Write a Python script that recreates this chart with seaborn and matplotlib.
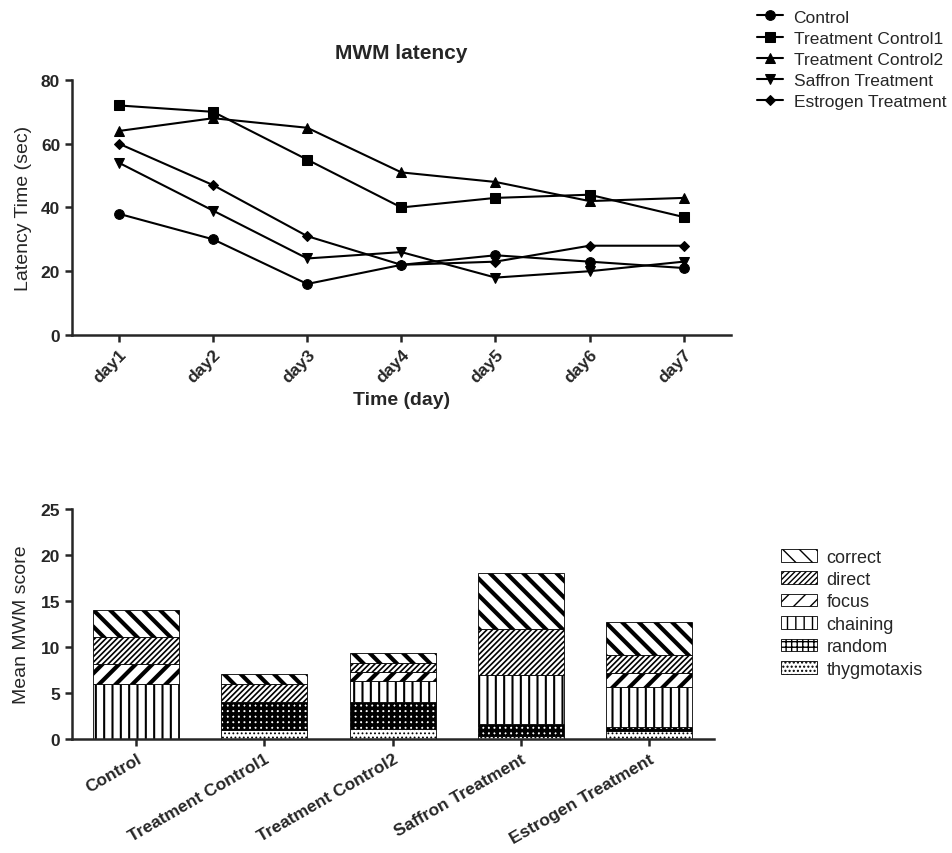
import matplotlib
matplotlib.use("Agg")
import matplotlib.pyplot as plt
import pandas as pd
import seaborn as sns

# Line chart data (MWM latency, sec)
days = ["day1", "day2", "day3", "day4", "day5", "day6", "day7"]
control = [38, 30, 16, 22, 25, 23, 21]
treatment_control1 = [72, 70, 55, 40, 43, 44, 37]
treatment_control2 = [64, 68, 65, 51, 48, 42, 43]
saffron = [54, 39, 24, 26, 18, 20, 23]
estrogen = [60, 47, 31, 22, 23, 28, 28]
line_groups = ["Control", "Treatment Control1", "Treatment Control2", "Saffron Treatment", "Estrogen Treatment"]

# Stacked bar data (mean MWM score per strategy)
bar_groups = ["Control", "Treatment Control1", "Treatment Control2", "Saffron Treatment", "Estrogen Treatment"]
thygmotaxis = [0, 1.0, 1.1, 0.35, 0.85]
random_s = [0, 3.0, 2.9, 1.25, 0.45]
chaining = [6.0, 0, 2.3, 5.4, 4.3]
focus = [2.1, 0, 1.0, 0, 1.6]
direct = [3.0, 2.0, 1.0, 5.0, 1.9]
correct = [2.95, 1.05, 1.1, 6.0, 3.6]

sns.set_style("ticks")
plt.rcParams["font.family"] = ["Liberation Sans", "DejaVu Sans"]

fig = plt.figure(figsize=(9.52, 8.54), dpi=100)

# ---- line chart
ax1 = fig.add_axes([0.0756, 0.6066, 0.692, 0.2986])
df = pd.DataFrame({"day": days * 5,
                   "latency": control + treatment_control1 + treatment_control2 + saffron + estrogen,
                   "group": [g for g in line_groups for _ in days]})
markers = {"Control": "o", "Treatment Control1": "s", "Treatment Control2": "^",
           "Saffron Treatment": "v", "Estrogen Treatment": "D"}
sizes = {"Control": 7, "Treatment Control1": 7, "Treatment Control2": 7,
         "Saffron Treatment": 7, "Estrogen Treatment": 5.5}
for g in line_groups:
    sub = df[df["group"] == g]
    sns.lineplot(data=sub, x="day", y="latency", ax=ax1, color="black", linewidth=1.5,
                 marker=markers[g], markersize=sizes[g], markeredgecolor="black",
                 label=g, sort=False)
ax1.set_xlim(-0.5, 6.5)
ax1.set_ylim(0, 80)
ax1.set_yticks([0, 20, 40, 60, 80])
ax1.set_title("MWM latency", fontsize=15, fontweight="bold", pad=16)
ax1.set_xlabel("Time (day)", fontsize=14, fontweight="bold", labelpad=4)
ax1.set_ylabel("Latency Time (sec)", fontsize=14, labelpad=6)
ax1.tick_params(width=1.8, length=5, labelsize=12.5)
for lab in ax1.get_xticklabels() + ax1.get_yticklabels():
    lab.set_fontweight("bold")
for lab in ax1.get_xticklabels():
    lab.set_rotation(45)
    lab.set_ha("right")
    lab.set_rotation_mode("anchor")
sns.despine(ax=ax1)
for s in ["left", "bottom"]:
    ax1.spines[s].set_linewidth(1.8)
h, l = ax1.get_legend_handles_labels()
ax1.get_legend().remove()
fig.legend(h, l, loc="upper left", bbox_to_anchor=(0.788, 0.996), frameon=False,
           fontsize=12.5, handlelength=1.5, handletextpad=0.6, labelspacing=0.35,
           borderaxespad=0)

# ---- stacked bar chart
ax2 = fig.add_axes([0.0756, 0.1335, 0.674, 0.2693])
layers = [("thygmotaxis", thygmotaxis, "....", 0.8),
          ("random", random_s, "+++", 2.6),
          ("chaining", chaining, "||", 1.5),
          ("focus", focus, "//", 3.0),
          ("direct", direct, "//////", 1.2),
          ("correct", correct, "\\\\", 3.0)]
bottom = [0.0] * len(bar_groups)
for name, vals, hatch, hlw in layers:
    with plt.rc_context({"hatch.linewidth": hlw, "hatch.color": "black"}):
        sns.barplot(x=bar_groups, y=vals, bottom=bottom, ax=ax2, color="white",
                    edgecolor="black", linewidth=0.6, hatch=hatch, width=0.67,
                    label=name)
    bottom = [b + v for b, v in zip(bottom, vals)]
ax2.set_xlim(-0.5, 4.5)
ax2.set_ylim(0, 25)
ax2.set_yticks([0, 5, 10, 15, 20, 25])
ax2.set_ylabel("Mean MWM score", fontsize=14, labelpad=8)
ax2.tick_params(width=1.8, length=5, labelsize=12.5)
for lab in ax2.get_xticklabels() + ax2.get_yticklabels():
    lab.set_fontweight("bold")
for lab in ax2.get_xticklabels():
    lab.set_rotation(30)
    lab.set_ha("right")
    lab.set_rotation_mode("anchor")
sns.despine(ax=ax2)
for s in ["left", "bottom"]:
    ax2.spines[s].set_linewidth(1.8)
h2, l2 = ax2.get_legend_handles_labels()
if ax2.get_legend() is not None:
    ax2.get_legend().remove()
fig.legend(h2[::-1], l2[::-1], loc="upper left", bbox_to_anchor=(0.813, 0.365), frameon=False,
           fontsize=13, handlelength=2.0, handleheight=0.7, handletextpad=0.5,
           labelspacing=0.3, borderaxespad=0)

fig.savefig("out.png", dpi=100)
